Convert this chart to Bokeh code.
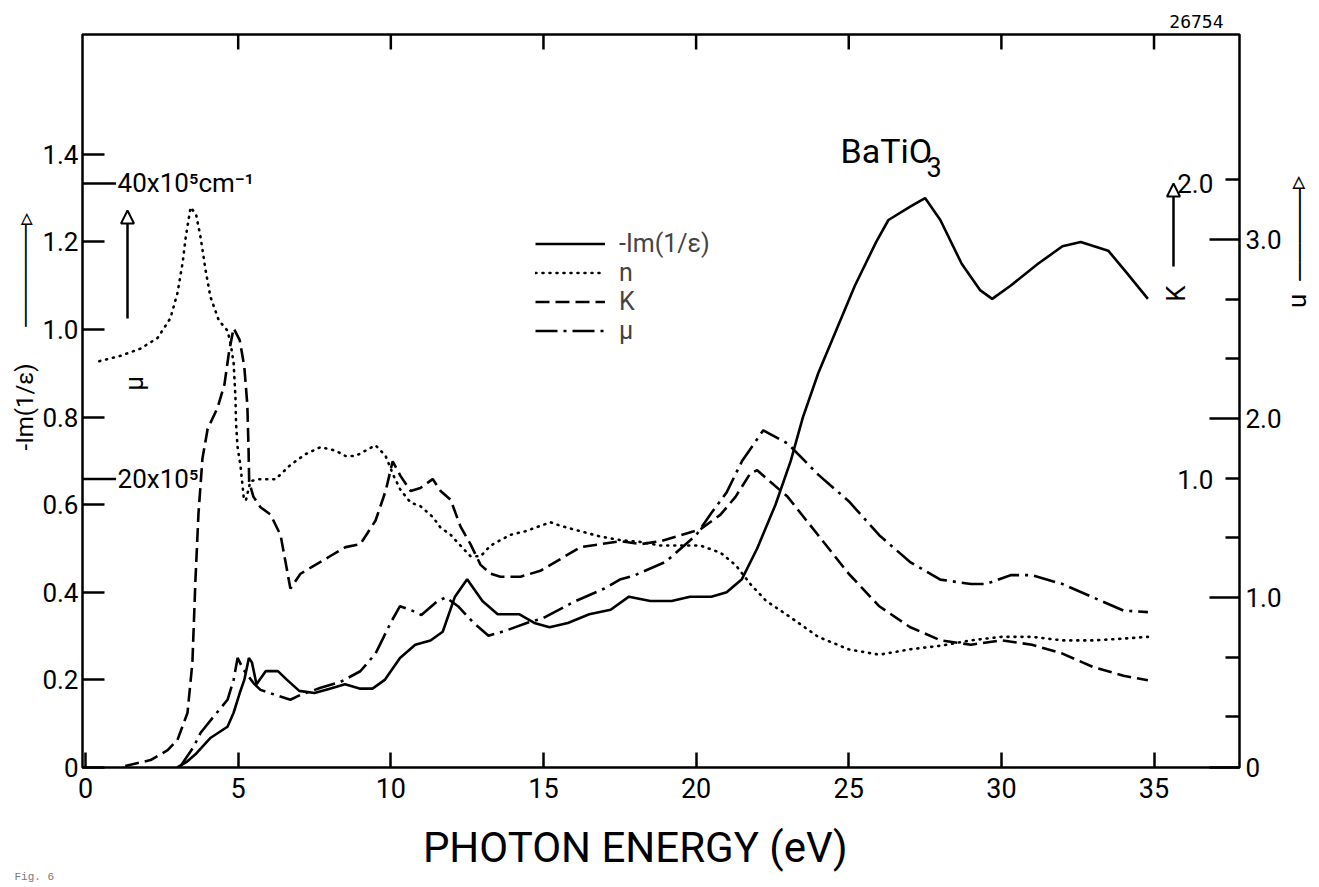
import math
from bokeh.plotting import figure
from bokeh.models import (Range1d, LinearAxis, FixedTicker, Label, Arrow, NormalHead,
                          Legend, LegendItem, Title)
from bokeh.core.properties import value
from bokeh.embed import file_html
from bokeh.resources import INLINE

# ---------------- data ----------------
# -Im(1/eps), left axis
E_loss = [3.0, 3.3, 3.6, 4.1, 4.65, 4.85, 5.05, 5.2, 5.35, 5.45, 5.6, 5.9, 6.3, 6.6, 7.0, 7.5,
          8.0, 8.5, 9.0, 9.4, 9.8, 10.3, 10.8, 11.3, 11.7, 12.1, 12.5, 13.0, 13.5, 14.2, 14.7,
          15.2, 15.8, 16.5, 17.2, 17.8, 18.5, 19.2, 19.8, 20.5, 21.0, 21.5, 22.0, 22.6, 23.1,
          23.5, 24.0, 24.6, 25.2, 25.9, 26.3, 27.0, 27.5, 28.0, 28.7, 29.3, 29.7, 30.3, 31.2,
          32.0, 32.6, 33.5, 34.1, 34.8]
loss = [0.0, 0.012, 0.03, 0.068, 0.093, 0.125, 0.17, 0.2, 0.25, 0.24, 0.19, 0.22, 0.22, 0.2,
        0.175, 0.17, 0.18, 0.19, 0.18, 0.18, 0.2, 0.25, 0.28, 0.29, 0.31, 0.39, 0.43, 0.38,
        0.35, 0.35, 0.33, 0.32, 0.33, 0.35, 0.36, 0.39, 0.38, 0.38, 0.39, 0.39, 0.40, 0.43,
        0.50, 0.60, 0.70, 0.80, 0.90, 1.00, 1.10, 1.20, 1.25, 1.28, 1.30, 1.25, 1.15, 1.09,
        1.07, 1.10, 1.15, 1.19, 1.20, 1.18, 1.13, 1.07]

# n, right (outer) axis
E_n = [0.45, 1.15, 1.8, 2.36, 2.78, 3.01, 3.18, 3.28, 3.44, 3.62, 3.77, 3.93, 4.09, 4.36, 4.65,
       4.75, 4.85, 4.91, 4.93, 4.98, 5.08, 5.18, 5.25, 5.4, 5.67, 6.22, 6.71, 7.2, 7.7, 8.19,
       8.52, 8.84, 9.17, 9.5, 9.83, 10.09, 10.32, 10.65, 10.97, 11.37, 11.63, 11.96, 12.28,
       12.61, 12.94, 13.27, 13.59, 13.92, 14.41, 14.9, 15.23, 15.56, 16.21, 16.87, 17.52,
       18.18, 18.83, 19.49, 20.14, 20.8, 21.3, 21.8, 22.3, 23.0, 24.0, 25.0, 26.0, 27.0, 28.0,
       29.0, 30.0, 31.0, 32.0, 33.0, 34.0, 34.8]
n_vals = [2.32, 2.35, 2.39, 2.45, 2.56, 2.70, 2.87, 3.01, 3.18, 3.14, 3.01, 2.83, 2.68, 2.55,
          2.49, 2.42, 2.31, 2.12, 1.97, 1.84, 1.73, 1.56, 1.54, 1.65, 1.66, 1.66, 1.74, 1.80,
          1.84, 1.82, 1.79, 1.79, 1.82, 1.85, 1.79, 1.68, 1.60, 1.53, 1.51, 1.45, 1.39, 1.35,
          1.29, 1.23, 1.23, 1.29, 1.32, 1.35, 1.37, 1.40, 1.42, 1.40, 1.37, 1.34, 1.32, 1.31,
          1.29, 1.29, 1.29, 1.25, 1.18, 1.07, 0.98, 0.90, 0.78, 0.71, 0.68, 0.71, 0.73, 0.76,
          0.78, 0.78, 0.76, 0.76, 0.77, 0.78]

# K, right (inner) axis
E_k = [1.3, 2.13, 2.69, 3.01, 3.34, 3.5, 3.6, 3.7, 3.83, 4.0, 4.32, 4.55, 4.7, 4.85, 5.05, 5.2,
       5.3, 5.34, 5.36, 5.5, 5.73, 6.06, 6.39, 6.71, 7.04, 7.53, 8.02, 8.52, 9.0, 9.5, 9.83,
       10.06, 10.32, 10.65, 10.97, 11.37, 11.63, 11.96, 12.28, 12.61, 12.94, 13.27, 13.59,
       14.25, 14.9, 15.56, 16.21, 16.87, 17.52, 18.18, 18.83, 19.49, 20.14, 20.8, 21.29,
       21.78, 22.0, 23.0, 24.0, 25.0, 26.0, 27.0, 28.0, 29.0, 30.0, 31.0, 32.0, 33.0, 34.0, 34.8]
k_vals = [0.03, 0.05, 0.084, 0.118, 0.21, 0.38, 0.66, 0.885, 1.07, 1.17, 1.24, 1.32, 1.43, 1.51,
          1.47, 1.38, 1.25, 1.10, 0.99, 0.94, 0.905, 0.88, 0.81, 0.63, 0.68, 0.71, 0.74, 0.77,
          0.78, 0.86, 0.96, 1.06, 1.01, 0.96, 0.97, 1.00, 0.96, 0.93, 0.84, 0.78, 0.71, 0.68,
          0.67, 0.67, 0.69, 0.73, 0.77, 0.78, 0.79, 0.78, 0.79, 0.81, 0.83, 0.88, 0.94, 1.02,
          1.03, 0.94, 0.81, 0.68, 0.57, 0.50, 0.455, 0.44, 0.455, 0.44, 0.41, 0.365, 0.335, 0.32]

# mu, absorption coefficient in 10^5 cm^-1
E_mu = [3.1, 3.54, 3.77, 4.19, 4.65, 4.85, 4.98, 5.18, 5.5, 5.73, 6.22, 6.71, 7.04, 7.7, 8.35,
        9.0, 9.5, 10.0, 10.3, 10.7, 11.0, 11.5, 11.8, 12.2, 12.7, 13.2, 13.7, 14.5, 15.0, 16.0,
        17.0, 17.5, 18.0, 19.0, 20.0, 20.5, 21.0, 21.5, 22.2, 23.0, 24.0, 25.0, 26.0, 27.0,
        28.0, 29.0, 29.5, 30.3, 31.0, 32.0, 33.0, 34.0, 34.8]
mu_vals = [0.55, 1.89, 2.84, 3.92, 5.07, 6.42, 7.9, 7.09, 6.2, 5.74, 5.4, 5.07, 5.4, 5.88, 6.28,
           7.0, 8.2, 10.3, 11.4, 11.1, 10.8, 11.7, 12.0, 11.4, 10.3, 9.4, 9.7, 10.3, 10.6, 11.7,
           12.6, 13.2, 13.5, 14.4, 16.2, 17.7, 19.1, 21.2, 23.3, 22.4, 20.3, 18.5, 16.2, 14.4,
           13.2, 12.9, 12.9, 13.5, 13.5, 12.9, 12.0, 11.1, 11.0]

x_ticks = [0, 5, 10, 15, 20, 25, 30, 35]
top_ticks = [5, 10, 15, 20, 25, 30, 35]
left_ticks = [0, 0.2, 0.4, 0.6, 0.8, 1.0, 1.2, 1.4]
left_tick_labels = ["0", "0.2", "0.4", "0.6", "0.8", "1.0", "1.2", "1.4"]
n_ticks = [0.05, 1, 2, 3]
n_tick_labels = ["0", "1.0", "2.0", "3.0"]
n_minor = [1 / 3, 2 / 3, 4 / 3, 5 / 3, 7 / 3, 8 / 3, 10 / 3]
k_ticks = [1.0, 2.0]
k_tick_labels = ["1.0", "2.0"]
mu_ticks = [20, 40]
mu_tick_labels = ["20x10\u2075", "40x10\u2075cm\u207b\u00b9"]

FONT = "Roboto"
ARROW_UP = "\u2500" * 6 + "\u25b9"      # rotated with the left title: points up
ARROW_UP_R = "\u25c3" + "\u2500" * 5    # for the right-hand (top-to-bottom) title

Y_TOP = 1.6735
p = figure(width=1319, height=887, output_backend="svg", toolbar_location=None, title=None,
           x_range=Range1d(-0.1, 37.8), y_range=Range1d(0, Y_TOP),
           min_border_left=82, min_border_right=80, min_border_top=34, min_border_bottom=120,
           background_fill_color="white", border_fill_color="white",
           outline_line_color="black", outline_line_width=2.5)
p.extra_y_ranges = {"n": Range1d(0.05, 4.145), "K": Range1d(0.025, 2.503),
                    "mu": Range1d(0.49, 50.07)}
p.grid.visible = False


def style_axis(ax, size="26px"):
    ax.axis_line_color = None
    ax.major_tick_line_color = "black"
    ax.major_tick_line_width = 2.5
    ax.minor_tick_line_color = "black"
    ax.minor_tick_line_width = 2.5
    ax.major_tick_out = 0
    ax.minor_tick_out = 0
    ax.major_label_text_font = FONT
    ax.major_label_text_font_size = size
    ax.major_label_text_color = "black"


# bottom axis
xa = p.xaxis[0]
style_axis(xa, "27px")
xa.ticker = FixedTicker(ticks=x_ticks, minor_ticks=[])
xa.major_tick_in = 15
xa.major_label_standoff = 10
xa.axis_label = "PHOTON ENERGY (eV)\u2003\u2009"
xa.axis_label_text_font = FONT
xa.axis_label_text_font_size = "42px"
xa.axis_label_text_font_style = "normal"
xa.axis_label_text_color = "black"
xa.axis_label_standoff = 22

# top edge: tick marks only (15 px long, expressed in left-axis units)
p.segment(x0=top_ticks, y0=[Y_TOP] * len(top_ticks), x1=top_ticks,
          y1=[Y_TOP - 15 / 438] * len(top_ticks), line_color="black", line_width=2.5)

# left axis: -Im(1/eps)
ya = p.yaxis[0]
style_axis(ya, "26px")
ya.ticker = FixedTicker(ticks=left_ticks, minor_ticks=[])
ya.major_tick_in = 22
ya.major_label_standoff = 4
ya.major_label_overrides = {t: s for t, s in zip(left_ticks, left_tick_labels)}

# right axis: n (ticks every 1/3, K ticks coincide)
ra = LinearAxis(y_range_name="n", ticker=FixedTicker(ticks=n_ticks, minor_ticks=n_minor))
style_axis(ra, "26px")
ra.major_tick_in = 30
ra.minor_tick_in = 14
ra.major_label_standoff = 6
ra.major_label_overrides = {t: s for t, s in zip(n_ticks, n_tick_labels)}
p.add_layout(ra, "right")

# curves
r_loss = p.line(E_loss, loss, line_color="black", line_width=2.6)
r_n = p.line(E_n, n_vals, y_range_name="n", line_color="black", line_width=2.6,
             line_dash="1 6", line_cap="round")
r_k = p.line(E_k, k_vals, y_range_name="K", line_color="black", line_width=2.6,
             line_dash="14 6")
r_mu = p.line(E_mu, mu_vals, y_range_name="mu", line_color="black", line_width=2.6,
              line_dash="22 6 3 6")

# K tick labels (inside the right axis)
p.text(x=[36.94] * len(k_ticks), y=k_ticks, text=k_tick_labels, y_range_name="K",
       text_align="right", text_baseline="middle", text_font=value(FONT),
       text_font_size="26px", text_color="black")

# mu scale ticks on the left axis
p.segment(x0=[-0.1] * len(mu_ticks), y0=mu_ticks, x1=[1.0] * len(mu_ticks), y1=mu_ticks,
          y_range_name="mu", line_color="black", line_width=2.5)
p.text(x=[1.05] * len(mu_ticks), y=mu_ticks, text=mu_tick_labels, y_range_name="mu",
       text_align="left", text_baseline="middle", text_font=value(FONT),
       text_font_size="26px", text_color="black")

# legend
legend = Legend(items=[LegendItem(label="-Im(1/\u03b5)", renderers=[r_loss]),
                       LegendItem(label="n", renderers=[r_n]),
                       LegendItem(label="K", renderers=[r_k]),
                       LegendItem(label="\u03bc", renderers=[r_mu])],
                location=(453, 422), glyph_width=70, glyph_height=29, label_height=29,
                spacing=0, padding=0, margin=0, border_line_color=None,
                background_fill_alpha=0, label_text_font=FONT, label_text_font_size="25px",
                label_standoff=14)
p.add_layout(legend)


# texts in the margins (side-panel titles)
def side_title(text, place, size, align, offset, standoff, font=FONT, color="black",
               valign="middle"):
    p.add_layout(Title(text=text, align=align, vertical_align=valign, offset=offset,
                       standoff=standoff, text_font=font, text_font_size=size,
                       text_font_style="normal", text_color=color), place)


side_title("26754", "above", "18px", "right", 16, 11, font="DejaVu Sans Mono")
side_title("Fig. 6", "below", "11px", "left", -68, -10, font="Liberation Mono",
           color="#777777")
side_title("-Im(1/\u03b5)\u2003\u2002" + ARROW_UP, "left", "24px", "left", 317, 0)
side_title(ARROW_UP_R + "\u2002" + "n", "right", "26px", "left", 141, 0)


# texts and arrows inside the frame
def clabel(text, x, y, size, angle=0.0, align="center", font=FONT, color="black"):
    p.add_layout(Label(x=x, y=y, x_units="canvas", y_units="canvas", text=text, angle=angle,
                       text_align=align, text_baseline="middle", text_font=font,
                       text_font_size=size, text_color=color))


def carrow(x, y0, y1):
    p.add_layout(Arrow(end=NormalHead(size=13, fill_color="white", line_color="black",
                                      line_width=2),
                       x_start=x, y_start=y0, x_end=x, y_end=y1,
                       start_units="canvas", end_units="canvas",
                       line_color="black", line_width=2.5))


clabel("BaTiO", 840, 150, "34px", align="left")
clabel("3", 926, 166, "27px", align="left")
clabel("\u03bc", 133, 383, "26px", angle=math.pi / 2)
clabel("K", 1175, 293, "26px", angle=math.pi / 2)
carrow(127, 318, 210)
carrow(1173, 266, 183)

open("out.html", "w").write(file_html(p, INLINE))
